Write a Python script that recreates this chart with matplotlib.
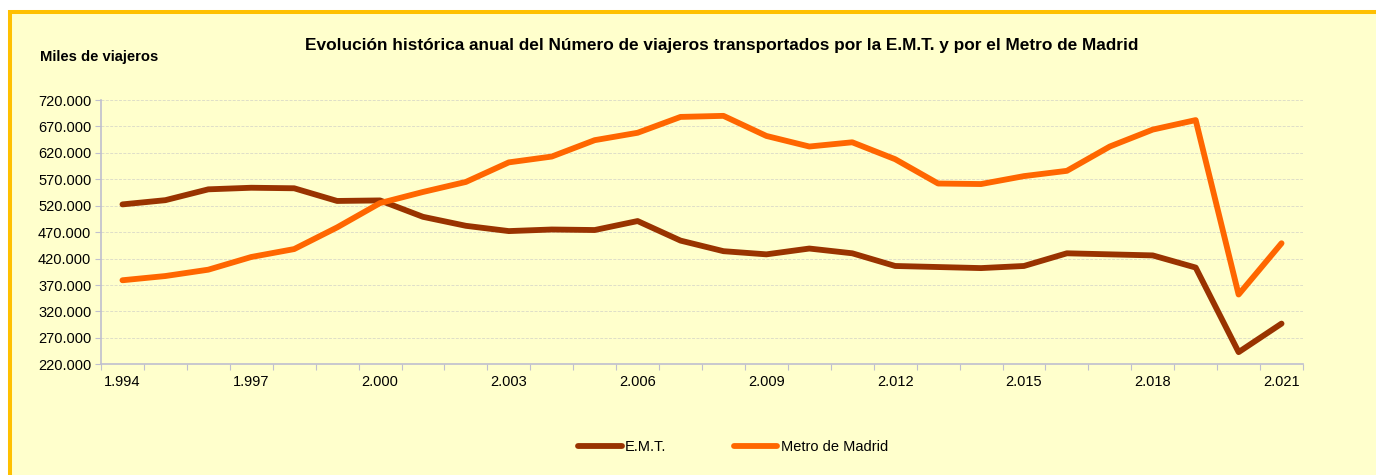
import matplotlib.pyplot as plt
from matplotlib.patches import Rectangle
from matplotlib.ticker import FuncFormatter
import numpy as np

plt.rcParams['font.family'] = ['Liberation Sans', 'DejaVu Sans']

years = list(range(1994, 2022))
# miles de viajeros
emt = [522500, 530500, 551000, 554000, 553000, 529000, 530000, 499000,
       482000, 472000, 475000, 474000, 491000, 454000, 434000, 428000,
       439000, 430000, 406000, 404000, 402000, 406000, 430000, 428000,
       426000, 403000, 243000, 297000]
metro = [379000, 387000, 399000, 423000, 438000, 479000, 525000, 546000,
         565000, 602000, 613000, 644000, 658000, 688000, 690000, 652000,
         632000, 640000, 608000, 562000, 561000, 576000, 586000, 632000,
         664000, 682000, 352000, 449000]
y_ticks = list(range(220000, 720001, 50000))

W, H = 1376, 475
fig = plt.figure(figsize=(W / 100, H / 100), dpi=100, facecolor='white')

# yellow chart area with orange frame (cut off at right and bottom)
fig.patches.append(Rectangle((10 / W, -0.2), 1.2, 1.2 - 11.5 / H,
                             transform=fig.transFigure, facecolor='#FFFFCC',
                             edgecolor='#FFC000', linewidth=2.9, zorder=-10))

ax = fig.add_axes([101 / W, (H - 364.3) / H, (1303 - 101) / W, (364.3 - 100) / H])
ax.set_facecolor('none')

x = np.arange(len(years))
ax.plot(x, emt, color='#993300', lw=4.2, solid_capstyle='round', label='E.M.T.', zorder=3)
ax.plot(x, metro, color='#FF6600', lw=4.2, solid_capstyle='round', label='Metro de Madrid', zorder=3)

ax.set_xlim(-0.5, len(years) - 0.5)
ax.set_ylim(220000, 720000)

axis_col = '#BFBFCF'
for s in ['top', 'right']:
    ax.spines[s].set_visible(False)
for s in ['left', 'bottom']:
    ax.spines[s].set_color(axis_col)
    ax.spines[s].set_linewidth(1.2)

ax.set_yticks(y_ticks)
ax.yaxis.set_major_formatter(FuncFormatter(lambda v, p: f'{int(v):,}'.replace(',', '.')))
ax.tick_params(axis='y', length=4, color=axis_col, labelsize=10.5, pad=3, labelcolor='black')
ax.grid(axis='y', color='#DEDEC8', linestyle=(0, (3, 1.5)), linewidth=0.7)
ax.set_axisbelow(True)

# tick marks between categories, labels every third year
ax.set_xticks(np.arange(-0.5, len(years), 1))
ax.set_xticklabels([])
ax.tick_params(axis='x', which='major', length=4, color=axis_col)
lab_pos = x[::3]
ax.set_xticks(lab_pos, minor=True)
ax.set_xticklabels([f'{y // 1000}.{y % 1000:03d}' for y in years[::3]], minor=True)
ax.tick_params(axis='x', which='minor', length=0, labelsize=10.5, pad=8)

fig.text(722 / W, 1 - 45.5 / H, 'Evolución histórica anual del Número de viajeros transportados por la E.M.T. y por el Metro de Madrid',
         ha='center', va='center', fontsize=12.4, fontweight='bold')
fig.text(40 / W, 1 - 57 / H, 'Miles de viajeros', ha='left', va='center',
         fontsize=10.6, fontweight='bold')

fig.legend(loc='center', bbox_to_anchor=(733 / W, 1 - 447 / H), ncol=2, frameon=False,
           fontsize=10.5, handlelength=3.0, handletextpad=0.25, columnspacing=4.6)

fig.savefig('out.png', dpi=100, facecolor=fig.get_facecolor())
